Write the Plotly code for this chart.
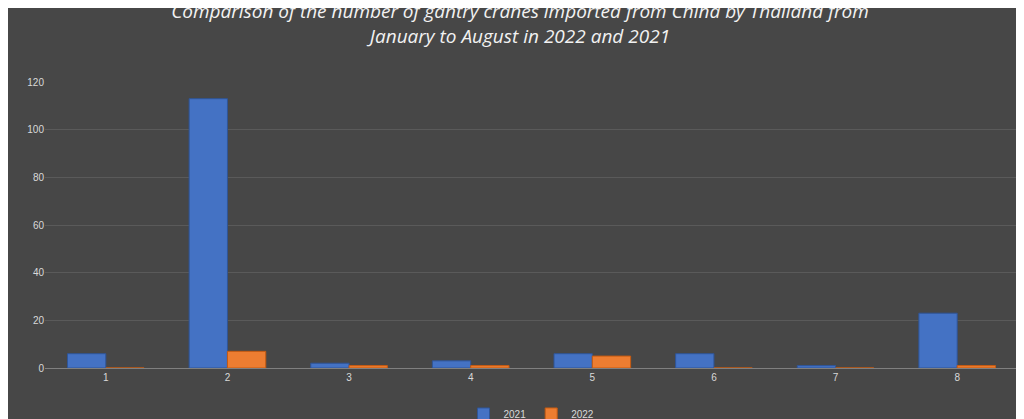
import plotly.graph_objects as go

months = ["1", "2", "3", "4", "5", "6", "7", "8"]
y2021 = [6, 113, 2, 3, 6, 6, 1, 23]
y2022 = [0, 7, 1, 1, 5, 0, 0, 1]

fig = go.Figure()
fig.add_bar(x=months, y=y2021, name="2021", marker=dict(color="#4472C4", line=dict(color="#2F5597", width=1)))
fig.add_bar(x=months, y=y2022, name="2022", marker=dict(color="#ED7D31", line=dict(color="#C55A11", width=1)))

fig.update_layout(
    width=1024, height=419,
    paper_bgcolor="#474747", plot_bgcolor="rgba(0,0,0,0)",
    title=dict(text="<i>Comparison of the number of gantry cranes imported from China by Thailand from<br>January to August in 2022 and 2021</i>",
               x=0.5, xanchor="center", y=0.975, yanchor="top",
               font=dict(family="Open Sans", size=19, color="#F2F2F2")),
    margin=dict(l=37, r=14, t=74, b=59, autoexpand=False),
    barmode="group", bargap=0.37, bargroupgap=0,
    font=dict(family="Liberation Sans Narrow, Arial Narrow, Liberation Sans", size=10, color="#D9D9D9"),
    xaxis=dict(showgrid=False, showline=True, linecolor="#808080", ticks=""),
    yaxis=dict(range=[0, 120], dtick=20, gridcolor="#5A5A5A", zeroline=False, showline=False),
    legend=dict(orientation="h", x=0.5, xanchor="center", y=-0.11, yanchor="top", font=dict(size=10),
                itemwidth=30),
)
fig.write_html("out.html")
